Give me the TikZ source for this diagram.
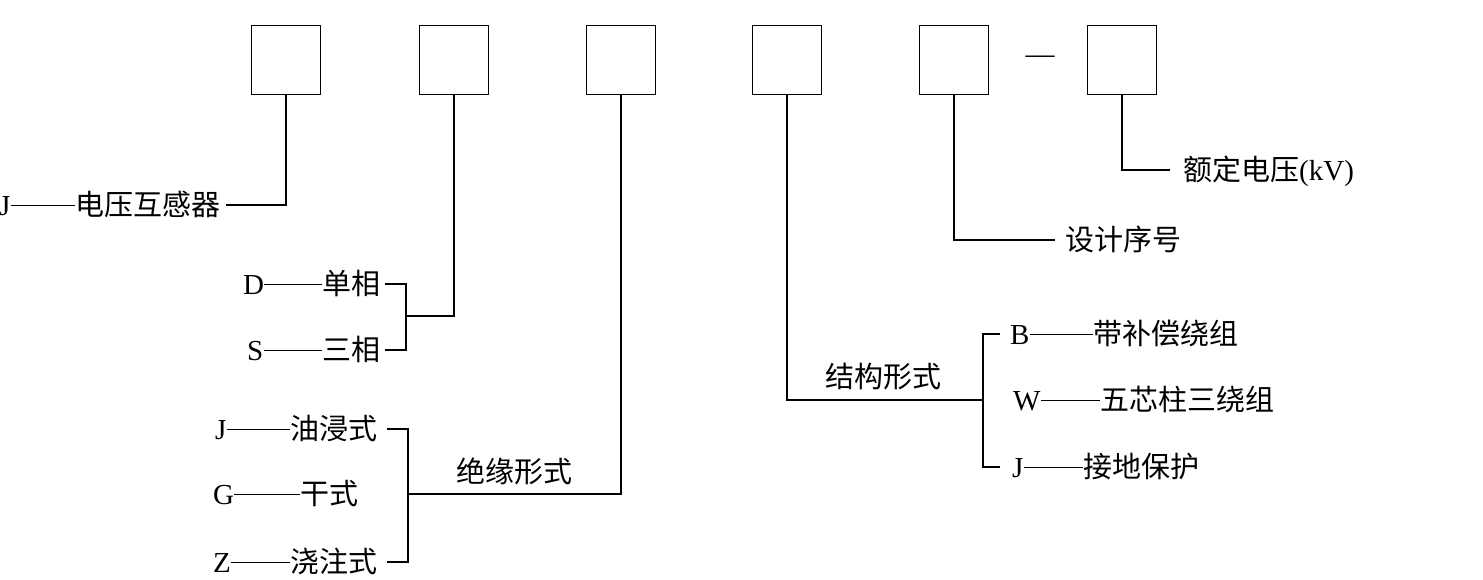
\documentclass[tikz,border=0pt]{standalone}
\usepackage{fontspec}
\setmainfont{Liberation Serif}
\newfontfamily\cjk{Noto Sans CJK SC}
\begin{document}
\begin{tikzpicture}[x=1pt,y=-1pt,
  box/.style={draw,line width=1.3pt,minimum size=69pt,inner sep=0pt},
  lbl/.style={anchor=west,inner sep=0pt,font=\fontsize{29}{29}\selectfont\cjk,
    text height=24.6pt,text depth=4.4pt},
  let/.style={lbl,font=\fontsize{29}{29}\selectfont\rmfamily},
  ln/.style={line width=1.7pt},
  dsh/.style={line width=0.7pt}
]
  \useasboundingbox (0,0) rectangle (1483,580);
  % code boxes
  \node[box] (b1) at (286,60) {};
  \node[box] (b2) at (454,60) {};
  \node[box] (b3) at (621,60) {};
  \node[box] (b4) at (787,60) {};
  \node[box] (b5) at (954,60) {};
  \node[box] (b6) at (1122,60) {};
  \node[let,anchor=center] (dash) at (1040,53) {—};

  % first box
  \node[let] (j1) at (-1,205) {J};
  \node[lbl] (pt) at (75,205) {电压互感器};
  \draw[dsh] (j1.east) -- (pt.west);
  \draw[ln] (b1.south) |- ([xshift=6pt]pt.east);

  % second box
  \node[let] (d) at (243,284) {D};
  \node[lbl] (dan) at (322,284) {单相};
  \node[let] (s) at (247,350) {S};
  \node[lbl] (san) at (322,350) {三相};
  \draw[dsh] (d.east) -- (dan.west);
  \draw[dsh] (s.east) -- (san.west);
  \coordinate (k2) at (406,316);
  \draw[ln] ([xshift=5pt]dan.east) -| (k2) |- ([xshift=5pt]san.east);
  \draw[ln] (b2.south) |- (k2);

  % third box
  \node[let] (j3) at (215,429) {J};
  \node[lbl] (you) at (290,429) {油浸式};
  \node[let] (g) at (213,494) {G};
  \node[lbl] (gan) at (300,494) {干式};
  \node[let] (z) at (213,562) {Z};
  \node[lbl] (jz) at (290,562) {浇注式};
  \draw[dsh] (j3.east) -- (you.west);
  \draw[dsh] (g.east) -- (gan.west);
  \draw[dsh] (z.east) -- (jz.west);
  \coordinate (k3) at (408,494);
  \draw[ln] ([xshift=10pt]you.east) -| (k3) |- ([xshift=10pt]jz.east);
  \draw[ln] (b3.south) |- (k3);
  \node[lbl] (jy) at (456,472) {绝缘形式};

  % fourth box
  \node[let] (bb) at (1010,334) {B};
  \node[lbl] (dai) at (1093,334) {带补偿绕组};
  \node[let] (w) at (1013,400) {W};
  \node[lbl] (wu) at (1100,400) {五芯柱三绕组};
  \node[let] (j4) at (1012,467) {J};
  \node[lbl] (jd) at (1083,467) {接地保护};
  \draw[dsh] (bb.east) -- (dai.west);
  \draw[dsh] (w.east) -- (wu.west);
  \draw[dsh] (j4.east) -- (jd.west);
  \coordinate (k4) at (983,400);
  \draw[ln] ([xshift=-10pt]bb.west) -| (k4) |- ([xshift=-12pt]j4.west);
  \draw[ln] (b4.south) |- (k4);
  \node[lbl] (jg) at (825,377) {结构形式};

  % fifth and sixth box
  \node[lbl] (sj) at (1065,240) {设计序号};
  \draw[ln] (b5.south) |- ([xshift=-10pt]sj.west);
  \node[lbl] (ed) at (1183,170) {额定电压{\rmfamily(kV)}};
  \draw[ln] (b6.south) |- ([xshift=-13pt]ed.west);
\end{tikzpicture}
\end{document}
